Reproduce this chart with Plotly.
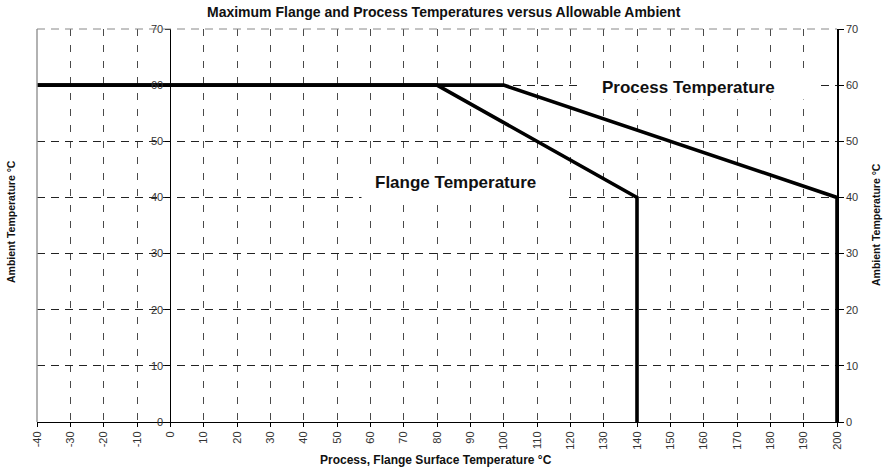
import plotly.graph_objects as go

# Derating curves: process temperature (x) against max allowable ambient (y)
process_x = [-40, 100, 200, 200]
process_y = [60, 60, 40, 0]
flange_x = [-40, 80, 140, 140]
flange_y = [60, 60, 40, 0]

x_ticks = list(range(-40, 201, 10))
x_tick_labels = [str(v) for v in x_ticks]
y_ticks = list(range(0, 71, 10))
y_tick_labels = [str(v) for v in y_ticks]

W, H = 888, 469
L, R, T, B = 37, 51, 29, 47
FONT = "Arial, Liberation Sans, sans-serif"


def px_x(p):
    return (p - L) / (W - L - R)


def px_y(p):
    return (H - B - p) / (H - T - B)


fig = go.Figure()
fig.add_trace(go.Scatter(x=process_x, y=process_y, mode="lines",
                         line=dict(color="black", width=3.6), hoverinfo="skip"))
fig.add_trace(go.Scatter(x=flange_x, y=flange_y, mode="lines",
                         line=dict(color="black", width=3.6), hoverinfo="skip"))
# invisible trace so the right-hand ambient axis is drawn
fig.add_trace(go.Scatter(x=[process_x[0]], y=[process_y[0]], yaxis="y2",
                         mode="markers", marker=dict(opacity=0), hoverinfo="skip"))

tick_font = dict(family=FONT, size=11, color="#333333")

fig.update_layout(
    width=W, height=H,
    margin=dict(l=L, r=R, t=T, b=B),
    paper_bgcolor="white", plot_bgcolor="white",
    showlegend=False,
    xaxis=dict(
        range=[-40, 200], tickmode="array", tickvals=x_ticks, ticktext=x_tick_labels,
        tickangle=-90, ticks="outside", ticklen=4, tickcolor="black",
        showline=True, linecolor="black", linewidth=1,
        showgrid=True, gridcolor="#4a4a4a", gridwidth=1, griddash="7px,9px",
        zeroline=False, tickfont=tick_font, fixedrange=True,
    ),
    yaxis=dict(
        range=[0, 70], tickmode="array", tickvals=y_ticks, ticktext=y_tick_labels,
        anchor="free", position=(0 - (-40)) / (200 - (-40)),
        ticks="outside", ticklen=5, tickcolor="black",
        showline=True, linecolor="black", linewidth=1,
        showgrid=True, gridcolor="#222222", gridwidth=1, griddash="8px,6px",
        zeroline=False, tickfont=tick_font, fixedrange=True,
    ),
    yaxis2=dict(
        range=[0, 70], tickmode="array", tickvals=y_ticks, ticktext=y_tick_labels,
        overlaying="y", side="right", anchor="x",
        ticks="outside", ticklen=5, tickcolor="black",
        showline=True, linecolor="black", linewidth=1.5,
        showgrid=False, zeroline=False, tickfont=tick_font, fixedrange=True,
    ),
)

# left frame edge
fig.add_shape(type="line", xref="paper", yref="paper", x0=0, x1=0, y0=0, y1=1,
              line=dict(color="#999999", width=1.5))
# top frame edge (70 gridline)
fig.add_shape(type="line", xref="paper", yref="paper", x0=0, x1=1, y0=1, y1=1,
              line=dict(color="#888888", width=1, dash="8px,6px"))


def label(px, py, text, size, **kw):
    fig.add_annotation(x=px_x(px), y=px_y(py), xref="paper", yref="paper",
                       xanchor="center", yanchor="middle", text=text,
                       showarrow=False, font=dict(family=FONT, size=size, color="#111111"),
                       **kw)


# white backing boxes behind the curve labels
label(699, 87, " ", 17, width=238, height=24, bgcolor="white", borderpad=0)
label(464.5, 182, " ", 17, width=205, height=32, bgcolor="white", borderpad=0)
# curve labels
label(688, 87, "<b>Process Temperature</b>", 17)
label(455, 182, "<b>Flange Temperature</b>", 17)

# titles
label(444, 12, "<b>Maximum Flange and Process Temperatures versus Allowable Ambient</b>", 14)
label(436, 460, "<b>Process, Flange Surface Temperature °C</b>", 12)
label(11, 222, "<b>Ambient Temperature °C</b>", 10.5, textangle=-90)
label(876, 225, "<b>Ambient Temperature °C</b>", 10.5, textangle=-90)

fig.write_html("out.html", config={"displayModeBar": False})
